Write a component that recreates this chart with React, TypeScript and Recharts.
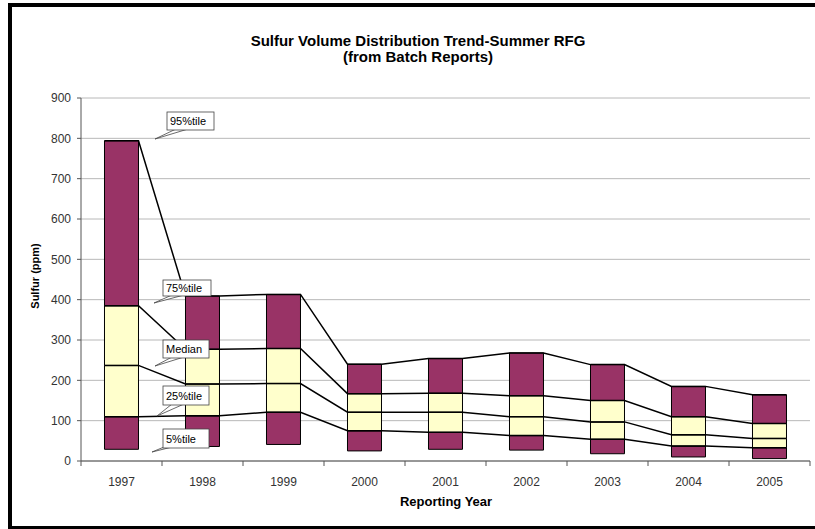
import React from 'react';
import { ComposedChart, Bar, Line, XAxis, YAxis, CartesianGrid } from 'recharts';

const years = ['1997', '1998', '1999', '2000', '2001', '2002', '2003', '2004', '2005'];
const p5 = [29, 36, 41, 25, 29, 27, 18, 10, 6];
const p25 = [110, 112, 121, 75, 71, 63, 54, 37, 33];
const median = [237, 191, 192, 121, 121, 110, 97, 65, 56];
const p75 = [385, 277, 279, 167, 168, 162, 150, 110, 93];
const p95 = [794, 409, 413, 240, 254, 268, 239, 185, 164];
const yTicks = [0, 100, 200, 300, 400, 500, 600, 700, 800, 900];

const BAR_FRACTION = 0.42;
const MAROON = '#993366';
const CREAM = '#FFFFCC';
const FONT = '"Liberation Sans", Arial, sans-serif';

const barData = years.map((year, i) => ({
  year,
  base: p5[i],
  s1: p25[i] - p5[i],
  s2: median[i] - p25[i],
  s3: p75[i] - median[i],
  s4: p95[i] - p75[i],
}));

const lineData = years.flatMap((_, i) => [
  { x: i + 0.5 - BAR_FRACTION / 2, p25: p25[i], median: median[i], p75: p75[i], p95: p95[i] },
  { x: i + 0.5 + BAR_FRACTION / 2, p25: p25[i], median: median[i], p75: p75[i], p95: p95[i] },
]);

const xTicks: number[] = [];
for (let i = 0; i <= years.length * 2; i++) xTicks.push(i / 2);

const XTick = (props: any) => {
  const { x, y, payload } = props;
  const v = payload.value as number;
  if (Number.isInteger(v)) {
    return <line x1={x} x2={x} y1={y} y2={y + 5} stroke="#555" strokeWidth={1} />;
  }
  const label = years[Math.floor(v)];
  return (
    <text x={x} y={y + 25} textAnchor="middle" fontSize={12} fill="#333" fontFamily={FONT}>
      {label}
    </text>
  );
};

const callouts = [
  { text: '95%tile', x: 167, y: 112, w: 47, h: 18, base: [176, 188], tip: [155, 139] },
  { text: '75%tile', x: 163, y: 280, w: 48, h: 16, base: [172, 184], tip: [154, 303] },
  { text: 'Median', x: 163, y: 340, w: 46, h: 18, base: [172, 184], tip: [155, 366] },
  { text: '25%tile', x: 163, y: 386, w: 46, h: 19, base: [172, 184], tip: [157, 416] },
  { text: '5%tile', x: 163, y: 429, w: 46, h: 19, base: [164, 172], tip: [152, 452] },
];

export default function App() {
  return (
    <div style={{ position: 'absolute', left: 0, top: 0, width: 815, height: 529, background: '#fff' }}>
      <ComposedChart
        width={815}
        height={529}
        data={barData}
        margin={{ top: 98, right: 5, bottom: 38, left: 41 }}
        barCategoryGap={`${((1 - BAR_FRACTION) / 2) * 100}%`}
      >
        <CartesianGrid horizontal vertical={false} stroke="#b8b8b8" />
        <XAxis xAxisId="cat" dataKey="year" type="category" hide />
        <XAxis
          type="number"
          dataKey="x"
          domain={[0, years.length]}
          allowDataOverflow
          ticks={xTicks}
          interval={0}
          tick={<XTick />}
          tickLine={false}
          tickSize={0}
          tickMargin={0}
          height={30}
          axisLine={{ stroke: '#555' }}
        />
        <YAxis
          domain={[0, 900]}
          ticks={yTicks}
          interval={0}
          width={40}
          tickSize={4}
          tickMargin={6}
          tick={{ fontSize: 12, fill: '#333', fontFamily: FONT }}
          tickLine={{ stroke: '#555' }}
          axisLine={{ stroke: '#555' }}
        />
        <YAxis
          yAxisId="right"
          orientation="right"
          domain={[0, 900]}
          width={0}
          tick={false}
          tickLine={false}
          axisLine={{ stroke: '#999' }}
        />
        <Bar xAxisId="cat" dataKey="base" stackId="a" fill="transparent" stroke="none" isAnimationActive={false} />
        <Bar xAxisId="cat" dataKey="s1" stackId="a" fill={MAROON} stroke="#000" strokeWidth={1} isAnimationActive={false} />
        <Bar xAxisId="cat" dataKey="s2" stackId="a" fill={CREAM} stroke="#000" strokeWidth={1} isAnimationActive={false} />
        <Bar xAxisId="cat" dataKey="s3" stackId="a" fill={CREAM} stroke="#000" strokeWidth={1} isAnimationActive={false} />
        <Bar xAxisId="cat" dataKey="s4" stackId="a" fill={MAROON} stroke="#000" strokeWidth={1} isAnimationActive={false} />
        {['p25', 'median', 'p75', 'p95'].map((k) => (
          <Line
            key={k}
            data={lineData}
            dataKey={k}
            type="linear"
            stroke="#000"
            strokeWidth={1.5}
            dot={false}
            activeDot={false}
            isAnimationActive={false}
          />
        ))}
      </ComposedChart>
      <svg
        width={815}
        height={529}
        style={{ position: 'absolute', left: 0, top: 0, pointerEvents: 'none' }}
      >
        <rect x={8} y={3} width={807} height={4} fill="#000" />
        <rect x={8} y={3} width={4} height={526} fill="#000" />
        <rect x={8} y={526} width={807} height={3} fill="#000" />
        <text x={418} y={46} textAnchor="middle" fontSize={15} fontWeight="bold" fontFamily={FONT} fill="#000">
          Sulfur Volume Distribution Trend-Summer RFG
        </text>
        <text x={418} y={62} textAnchor="middle" fontSize={15} fontWeight="bold" fontFamily={FONT} fill="#000">
          (from Batch Reports)
        </text>
        <text
          x={35}
          y={276}
          transform="rotate(-90 35 276)"
          textAnchor="middle"
          dominantBaseline="central"
          fontSize={11}
          fontWeight="bold"
          fontFamily={FONT}
          fill="#000"
        >
          Sulfur (ppm)
        </text>
        <text x={446} y={506} textAnchor="middle" fontSize={13} fontWeight="bold" fontFamily={FONT} fill="#000">
          Reporting Year
        </text>
        {callouts.map((c) => (
          <g key={c.text}>
            <polygon
              points={`${c.base[0]},${c.y + c.h - 1} ${c.base[1]},${c.y + c.h - 1} ${c.tip[0]},${c.tip[1]}`}
              fill="#fff"
              stroke="#444"
              strokeWidth={0.8}
            />
            <rect x={c.x} y={c.y} width={c.w} height={c.h} fill="#fff" stroke="#444" strokeWidth={0.8} />
            <text x={c.x + 3} y={c.y + c.h / 2 + 4} fontSize={11} fontFamily={FONT} fill="#000">
              {c.text}
            </text>
          </g>
        ))}
      </svg>
    </div>
  );
}
